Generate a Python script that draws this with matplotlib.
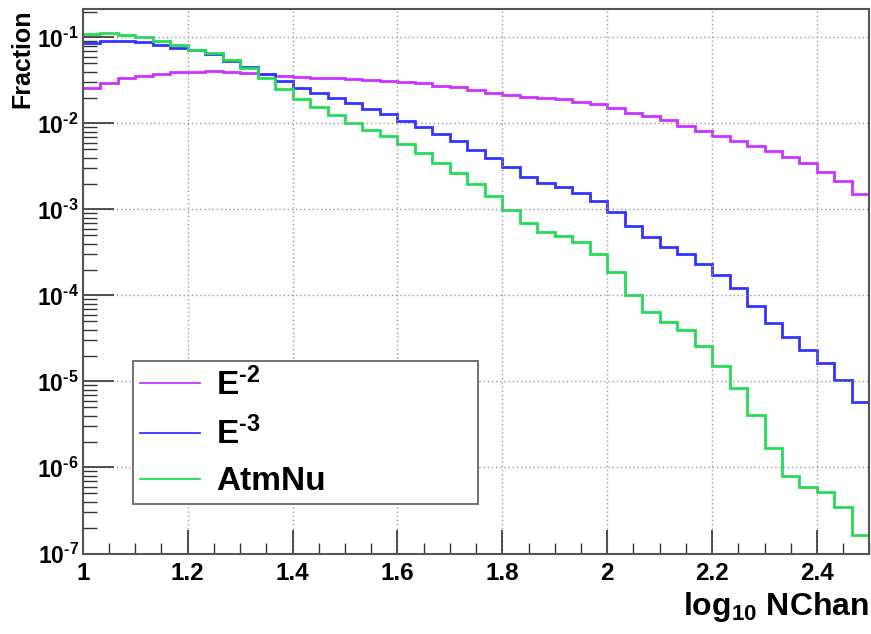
import numpy as np
import matplotlib
matplotlib.use("Agg")
import matplotlib.pyplot as plt
from matplotlib.lines import Line2D
from matplotlib.ticker import MultipleLocator, FuncFormatter, LogLocator

plt.rcParams['font.family'] = ['Liberation Sans', 'DejaVu Sans']
plt.rcParams['font.weight'] = 'bold'
plt.rcParams['axes.labelweight'] = 'bold'
plt.rcParams['mathtext.fontset'] = 'custom'
plt.rcParams['mathtext.rm'] = 'Liberation Sans:bold'
plt.rcParams['mathtext.it'] = 'Liberation Sans:bold'
plt.rcParams['mathtext.bf'] = 'Liberation Sans:bold'
plt.rcParams['mathtext.sf'] = 'Liberation Sans:bold'

# 45 bins in log10(NChan) from 1 to 2.5
edges = np.linspace(1.0, 2.5, 46)

# E^-2 spectrum
e2 = [0.0257, 0.0298, 0.0335, 0.0357, 0.0374, 0.0392, 0.0392, 0.0402, 0.0392,
      0.0390, 0.0379, 0.0360, 0.0350, 0.0341, 0.0335, 0.0327, 0.0321, 0.0312,
      0.0306, 0.0293, 0.0273, 0.0266, 0.0247, 0.0226, 0.0215, 0.0205, 0.0197,
      0.0190, 0.0179, 0.0169, 0.0153, 0.0134, 0.0122, 0.01098, 0.00935,
      0.00818, 0.00721, 0.00626, 0.00547, 0.00479, 0.00411, 0.00350, 0.00275,
      0.00216, 0.00151]

# E^-3 spectrum
e3 = [0.0870, 0.0918, 0.0918, 0.0894, 0.0818, 0.0749, 0.0716, 0.0638, 0.0537,
      0.0458, 0.0376, 0.0312, 0.0259, 0.0228, 0.01963, 0.01745, 0.01462,
      0.01290, 0.01078, 0.00903, 0.00755, 0.00622, 0.00496, 0.00394, 0.00310,
      0.00241, 0.00205, 0.00181, 0.00157, 0.00125, 0.000923, 0.000646,
      0.000475, 0.000369, 0.000301, 0.000231, 0.000173, 0.000123, 7.61e-5,
      4.83e-5, 3.27e-5, 2.34e-5, 1.63e-5, 1.04e-5, 5.85e-6]

# atmospheric neutrinos
atm = [0.1089, 0.1119, 0.1061, 0.1022, 0.0918, 0.0818, 0.0716, 0.0655, 0.0547,
       0.0438, 0.0335, 0.0250, 0.01927, 0.01543, 0.01256, 0.01022, 0.00840,
       0.00716, 0.00578, 0.00450, 0.00350, 0.00268, 0.00198, 0.00144,
       0.000987, 0.000691, 0.000540, 0.000485, 0.000413, 0.000304, 0.000188,
       0.000101, 6.43e-5, 4.88e-5, 3.97e-5, 2.61e-5, 1.53e-5, 8.34e-6, 4.08e-6,
       1.69e-6, 7.96e-7, 5.89e-7, 5.15e-7, 3.45e-7, 1.65e-7]

labels = [r'E$^{\text{-}2}$', r'E$^{\text{-}3}$', 'AtmNu']
colors = ['#cc33ff', '#3333ff', '#22dd55']

fig = plt.figure(figsize=(8.71, 6.34), dpi=100)
ax = fig.add_axes([82.8/871, 1 - 553.5/634, 786.6/871, 544.5/634])

for vals, c in zip([e2, e3, atm], colors):
    ax.stairs(vals, edges, color=c, lw=2.0, baseline=None)

ax.set_xlim(1.0, 2.5)
ax.set_yscale('log')
ax.set_ylim(1e-7, 0.214)

ax.xaxis.set_major_locator(MultipleLocator(0.2))
ax.xaxis.set_minor_locator(MultipleLocator(0.05))
ax.xaxis.set_major_formatter(FuncFormatter(lambda v, p: '%g' % round(v, 2)))
ax.yaxis.set_major_locator(LogLocator(base=10, numticks=20))
ax.yaxis.set_minor_locator(LogLocator(base=10, subs=np.arange(2, 10), numticks=20))
ax.yaxis.set_major_formatter(
    FuncFormatter(lambda v, p: r'$10^{\text{-}%d}$' % abs(round(np.log10(v)))))

ax.tick_params(axis='both', which='both', direction='in', top=False, right=False,
               color='#333333')
ax.tick_params(axis='x', which='major', length=17, width=1.2, labelsize=17.5, pad=6)
ax.tick_params(axis='x', which='minor', length=8, width=1.0)
ax.tick_params(axis='y', which='major', length=22, width=1.2, labelsize=16.5, pad=3)
ax.tick_params(axis='y', which='minor', length=10, width=1.0)

ax.grid(True, which='major', ls=(0, (1, 2)), color='#999999', lw=1.0)

for s in ax.spines.values():
    s.set_color('#555555')
    s.set_linewidth(1.5)

ax.set_xlabel('log$_{10}$ NChan', fontsize=23, loc='right', labelpad=4)
ax.set_ylabel('Fraction', fontsize=18, loc='top', labelpad=2)

handles = [Line2D([], [], color=c, lw=1.3) for c in colors]
leg = ax.legend(handles, labels, loc='lower left',
                bbox_to_anchor=(0.0638, 0.0909, 0.4386, 0.258), mode='expand',
                fontsize=24, fancybox=False, frameon=True, borderaxespad=0,
                borderpad=0.2, labelspacing=0.45, handlelength=1.8,
                handletextpad=0.5, framealpha=1)
leg.get_frame().set_edgecolor('#666666')
leg.get_frame().set_linewidth(1.3)

fig.savefig('out.png', dpi=100)
